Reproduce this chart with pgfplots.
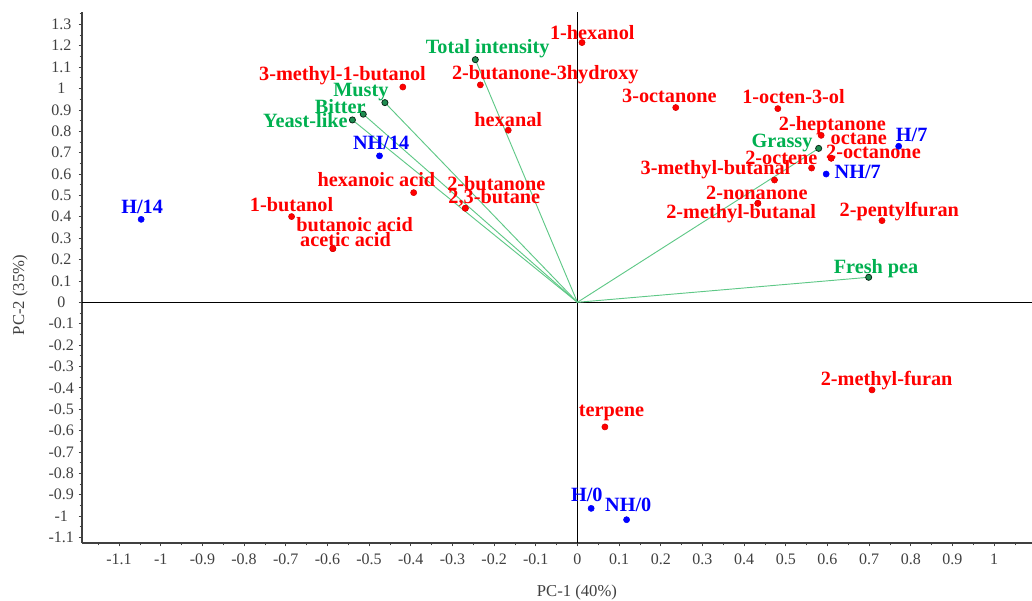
\documentclass[border=0pt]{standalone}
\usepackage{pgfplots}
\pgfplotsset{compat=1.18}
\usepackage{pgfplotstable}
\usepackage{fontspec}
\setmainfont{Liberation Serif}

\definecolor{ptred}{RGB}{255,0,0}
\definecolor{ptblue}{RGB}{0,0,255}
\definecolor{ptgreen}{RGB}{0,176,80}
\definecolor{dotgreen}{RGB}{30,140,80}
\definecolor{vecgreen}{RGB}{95,200,135}
\definecolor{axgray}{RGB}{64,64,64}

\newcommand\lbl{\fontsize{15.2}{16}\selectfont\bfseries}

% compounds (x, y, label offset dx dy in px, label)
\pgfplotstableread[col sep=semicolon]{
x;y;dx;dy;label
0.011;1.215;10.3;10.3;1-hexanol
-0.233;1.017;65;10.7;2-butanone-3hydroxy
-0.419;1.007;-60.3;11.7;3-methyl-1-butanol
-0.166;0.805;0;11;hexanal
-0.393;0.513;-37.3;13.3;hexanoic acid
-0.269;0.440;31;25;2-butanone
-0.269;0.440;29;10;2,3-butane
-0.686;0.401;0;12.3;1-butanol
-0.587;0.251;21.7;24.3;butanoic acid
-0.587;0.251;12.7;9.3;acetic acid
0.236;0.911;-6.3;11.3;3-octanone
0.481;0.906;15.7;12.3;1-octen-3-ol
0.585;0.781;11.3;10;2-heptanone
0.609;0.674;27.6;19.7;octane
0.609;0.674;42.3;6.7;2-octanone
0.562;0.628;-30.3;9.7;2-octene
0.473;0.572;-59;10;3-methyl-butanal
0.433;0.463;-1;10.7;2-nonanone
0.433;0.463;-16.6;-10;2-methyl-butanal
0.731;0.382;17.3;9;2-pentylfuran
0.707;-0.410;14.6;9.7;2-methyl-furan
0.066;-0.583;6.6;14.4;terpene
}\compounds

% samples
\pgfplotstableread[col sep=semicolon]{
x;y;dx;dy;label
-1.047;0.388;1;12.7;H/14
-0.475;0.685;1.7;13.4;NH/14
0.771;0.730;13;11;H/7
0.597;0.600;31.6;2.4;NH/7
0.033;-0.964;-4.4;14;H/0
0.118;-1.017;1.7;14.6;NH/0
}\samples

% sensory attributes
\pgfplotstableread[col sep=semicolon]{
x;y;dx;dy;label
-0.245;1.135;12.3;11;Total intensity
-0.462;0.934;-24;10.6;Musty
-0.514;0.880;-23;7.7;Bitter
-0.540;0.853;-47;-1;Yeast-like
0.579;0.720;-36.6;5.7;Grassy
0.699;0.117;7.4;9;Fresh pea
}\sensory

\pgfplotsset{
  labelled/.style={only marks, mark=*, mark size=2.3pt,
    visualization depends on={\thisrow{dx}*0.75\as\dx},
    visualization depends on={\thisrow{dy}*0.75\as\dy},
    nodes near coords, point meta=explicit symbolic,
    nodes near coords style={anchor=center, inner sep=0pt,
      xshift=\dx pt, yshift=\dy pt, font=\lbl, text=#1}},
}

\begin{document}
\begin{tikzpicture}
\begin{axis}[
    scale only axis,
    width=712.5pt, height=398.25pt,
    xmin=-1.189, xmax=1.091,
    ymin=-1.126, ymax=1.358,
    axis x line=bottom, axis y line=left,
    axis line style={axgray, line width=0.9pt, -},
    xtick distance=0.1, ytick distance=0.1,
    minor tick num=1,
    tick align=outside,
    major tick length=2.5pt, minor tick length=1.8pt,
    tick style={axgray, line width=0.6pt},
    /pgf/number format/assume math mode=true,
    ticklabel style={font=\fontsize{12}{14}\selectfont, text=axgray},
    yticklabel style={anchor=center, xshift=-13pt},
    xticklabel style={yshift=-2pt},
    xlabel={PC-1 (40\%)}, ylabel={PC-2 (35\%)},
    label style={font=\fontsize{12.5}{14}\selectfont, text=axgray},
    xlabel style={at={(axis description cs:0.521,0)}, anchor=center, yshift=-36.75pt},
    ylabel style={at={(axis description cs:0,0.467)}, anchor=center, yshift=46.5pt},
    clip=false,
]
% lines through the origin
\addplot[black, line width=0.9pt] coordinates {(-1.189,0) (1.091,0)};
\addplot[black, line width=0.9pt] coordinates {(0,-1.126) (0,1.358)};

% loading vectors
\addplot[vecgreen, line width=0.7pt] coordinates {(0,0) (-0.245,1.135)};
\addplot[vecgreen, line width=0.7pt] coordinates {(0,0) (-0.462,0.934)};
\addplot[vecgreen, line width=0.7pt] coordinates {(0,0) (-0.514,0.880)};
\addplot[vecgreen, line width=0.7pt] coordinates {(0,0) (-0.540,0.853)};
\addplot[vecgreen, line width=0.7pt] coordinates {(0,0) (0.579,0.720)};
\addplot[vecgreen, line width=0.7pt] coordinates {(0,0) (0.699,0.117)};

\addplot[labelled=ptred, ptred, mark options={fill=ptred, draw=ptred!85!black}] table[x=x, y=y, meta=label] {\compounds};
\addplot[labelled=ptblue, ptblue, mark options={fill=ptblue, draw=ptblue}] table[x=x, y=y, meta=label] {\samples};
\addplot[labelled=ptgreen, ptgreen, mark options={fill=dotgreen, draw=black!70!dotgreen, line width=0.6pt}] table[x=x, y=y, meta=label] {\sensory};
\end{axis}
\pgfresetboundingbox
\path (current axis.south west) ++(-61.5pt,-42.75pt) rectangle ([yshift=9pt]current axis.north east);
\end{tikzpicture}
\end{document}
